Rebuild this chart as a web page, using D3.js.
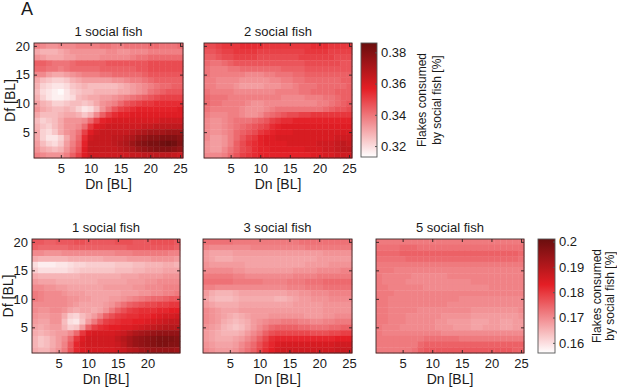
<!DOCTYPE html>
<html>
<head>
<meta charset="utf-8">
<script src="https://cdn.jsdelivr.net/npm/d3@7"></script>
<style>
body { margin: 0; background: #fff; }
text { font-family: "Liberation Sans", Arial, sans-serif; fill: #1a1a1a; }
</style>
</head>
<body>
<div id="vizContainer"></div>
<script>
let w = 617;
let h = 388;

let dn = [1, 2, 3, 4, 5, 6, 7, 8, 9, 10, 11, 12, 13, 14, 15, 16, 17, 18, 19, 20, 21, 22, 23, 24, 25];
let df = [20, 19, 18, 17, 16, 15, 14, 13, 12, 11, 10, 9, 8, 7, 6, 5, 4, 3, 2, 1];

let xTicks = [5, 10, 15, 20, 25];
let xTicksShort = [5, 10, 15, 20];
let yTicks = [5, 10, 15, 20];

let topRange = [0.313, 0.386];
let topBarTicks = [0.32, 0.34, 0.36, 0.38];
let topBarLabels = ["0.32", "0.34", "0.36", "0.38"];
let bottomRange = [0.156, 0.201];
let bottomBarTicks = [0.16, 0.17, 0.18, 0.19, 0.2];
let bottomBarLabels = ["0.16", "0.17", "0.18", "0.19", "0.2"];

let titles = ["1 social fish", "2 social fish", "1 social fish", "3 social fish", "5 social fish"];

// flakes consumed by social fish (x1000), rows Df 20 -> 1, columns Dn 1 -> 25
let oneFishTop = [
	[338,336,334,334,336,336,336,338,338,338,338,340,340,338,338,340,340,340,340,342,342,340,340,340,342],
	[330,328,328,328,330,332,334,334,334,334,334,334,336,336,334,334,336,336,336,338,338,338,338,338,338],
	[334,332,330,330,330,332,332,334,334,334,334,336,336,336,336,336,338,340,340,342,342,342,342,342,342],
	[344,344,342,340,340,340,342,344,344,344,344,344,346,346,346,346,346,346,346,348,348,348,348,348,348],
	[342,342,340,340,338,340,342,342,342,342,342,344,344,344,344,344,344,346,346,348,348,348,348,348,348],
	[336,336,332,330,330,332,334,336,338,338,338,340,340,342,342,342,342,342,344,346,346,346,346,346,346],
	[330,326,324,322,322,324,328,330,332,332,332,332,332,334,334,336,338,338,340,342,344,344,344,344,344],
	[328,322,320,318,318,320,324,326,328,326,326,326,326,326,328,330,332,334,336,338,340,342,342,344,344],
	[326,320,318,316,314,318,322,324,326,326,328,328,328,328,330,330,332,334,336,340,342,344,346,346,346],
	[328,322,318,316,316,318,320,326,328,330,330,332,332,334,336,338,340,342,344,346,348,350,350,350,350],
	[332,328,326,322,322,324,326,326,324,326,330,334,336,338,342,346,348,350,352,352,354,354,354,354,354],
	[334,330,328,326,326,328,326,322,318,320,326,334,340,346,350,352,354,356,356,356,356,356,356,356,358],
	[330,326,326,326,328,330,330,328,324,328,336,344,350,354,356,356,358,358,358,358,358,358,358,358,358],
	[326,322,324,326,330,334,334,334,336,342,350,356,358,360,360,360,360,360,360,360,360,362,362,362,362],
	[328,324,322,326,330,334,334,336,342,352,358,360,362,362,362,362,362,362,364,364,366,366,366,366,366],
	[330,322,320,324,330,334,336,340,350,358,362,364,364,364,364,364,366,368,370,372,372,372,374,374,374],
	[330,322,318,318,322,330,336,342,354,362,364,364,364,366,366,368,370,374,376,378,378,380,380,380,378],
	[332,326,322,320,324,332,338,344,356,364,364,364,364,366,368,370,374,378,380,382,382,384,386,384,380],
	[334,330,328,326,328,334,340,346,358,364,364,364,364,364,366,368,370,374,376,378,380,380,380,378,376],
	[338,336,334,334,334,338,344,350,358,362,362,362,362,362,362,362,364,364,366,366,366,366,366,364,362]
];

let twoFishTop = [
	[348,348,350,352,352,352,354,354,354,354,352,352,352,352,352,352,352,352,354,354,354,352,352,352,352],
	[346,346,348,350,350,352,352,352,352,350,350,350,350,350,350,350,350,352,352,352,352,350,350,350,350],
	[344,344,346,348,348,350,350,350,350,348,348,348,348,348,348,348,350,350,350,350,350,350,348,348,348],
	[342,340,340,342,344,346,346,346,346,346,346,346,346,346,346,346,346,348,348,348,348,348,348,346,346],
	[340,338,338,338,340,340,342,342,342,342,342,342,342,344,344,344,344,346,346,346,346,346,346,346,346],
	[340,338,338,338,338,338,338,336,336,336,338,338,340,340,340,342,342,344,344,344,344,344,344,344,344],
	[338,338,336,336,336,336,334,334,334,334,334,336,336,338,338,340,340,342,342,342,342,342,342,344,344],
	[338,338,336,336,336,334,332,332,332,332,334,334,334,336,336,338,340,340,340,342,342,342,342,342,344],
	[340,338,338,338,338,336,336,336,336,336,336,336,338,338,338,338,340,340,342,342,342,342,344,344,344],
	[342,340,340,340,338,338,338,338,338,338,338,338,338,336,336,336,336,338,338,338,340,340,342,344,344],
	[342,340,340,338,338,338,338,336,334,334,336,336,336,336,336,336,336,336,336,338,338,340,342,344,346],
	[340,338,338,338,338,338,336,334,334,334,336,338,340,340,340,340,340,340,340,340,342,344,346,346,348],
	[338,336,336,336,338,338,336,334,334,336,340,342,344,346,348,348,350,350,352,352,352,352,352,352,352],
	[336,334,334,336,338,340,340,340,342,344,346,350,352,354,354,356,356,356,356,356,356,356,356,356,356],
	[336,334,334,336,338,340,342,344,346,348,350,354,356,358,358,358,358,358,358,358,358,358,358,358,358],
	[336,334,334,336,338,342,344,346,348,352,354,356,358,358,358,360,360,360,360,360,360,360,360,360,360],
	[336,332,332,334,338,342,346,350,352,356,358,358,360,360,360,360,360,360,360,360,360,360,362,362,362],
	[334,332,332,334,338,344,348,352,354,356,358,358,358,358,360,360,360,360,360,362,362,362,364,366,364],
	[334,332,332,336,340,344,348,350,354,356,356,358,358,358,358,358,358,360,360,360,362,362,364,366,366],
	[336,336,336,338,342,346,350,352,354,356,356,356,356,356,356,356,356,356,358,358,360,360,362,362,362]
];

let oneFishBottom = [
	[176,176,175,175,176,176,176,177,177,176,176,176,176,176,177,177,177,176,176,176,177,177,177,177,176],
	[175,174,174,174,174,174,175,175,175,175,175,175,175,175,175,175,176,176,176,176,176,176,176,176,175],
	[170,170,169,169,169,170,170,170,170,170,170,170,170,170,171,171,171,172,172,172,172,172,172,171,171],
	[166,165,165,165,165,165,166,166,166,166,166,166,167,167,167,167,168,168,168,168,169,169,169,169,168],
	[160,158,158,158,159,159,160,161,161,162,162,162,162,162,163,163,163,164,164,165,165,165,166,166,165],
	[162,160,160,160,160,160,161,162,163,163,163,163,163,163,164,164,164,165,165,166,166,166,167,167,167],
	[166,165,165,165,165,165,165,165,166,166,166,166,166,166,166,167,167,167,168,168,168,168,169,169,169],
	[168,167,167,167,166,166,166,166,166,166,166,167,167,167,167,167,168,168,168,169,169,170,170,170,170],
	[170,170,169,169,168,168,167,167,167,167,167,167,168,168,168,168,168,169,169,170,170,170,171,171,171],
	[172,171,170,170,170,169,168,168,168,167,167,167,167,167,167,168,168,168,169,169,170,170,171,171,172],
	[172,171,170,170,170,170,169,169,168,168,167,167,167,168,168,169,170,171,172,173,174,174,175,176,176],
	[170,170,170,170,170,170,169,168,167,167,167,167,168,169,171,173,175,176,177,178,178,179,179,180,180],
	[170,169,169,170,170,169,167,166,167,167,166,167,169,172,175,177,179,180,181,181,181,182,182,183,183],
	[169,168,168,169,169,166,162,161,164,166,168,171,175,177,179,180,181,181,182,182,183,184,185,185,186],
	[168,167,167,169,169,164,160,159,163,168,172,176,179,180,181,182,182,183,183,184,185,186,187,188,188],
	[167,166,167,168,168,165,162,163,168,175,179,181,182,183,183,184,184,185,186,187,188,189,190,190,190],
	[166,165,166,167,168,168,170,174,180,184,185,185,185,185,186,187,189,191,192,193,194,195,195,195,195],
	[165,163,164,166,168,170,174,180,184,186,186,186,186,186,188,190,192,194,195,196,197,198,198,198,197],
	[165,163,164,166,168,171,176,182,185,186,186,186,186,186,187,189,192,194,195,196,197,198,198,197,197],
	[166,165,165,167,169,172,177,182,184,185,185,185,185,185,186,187,189,190,192,193,194,194,194,194,193]
];

let threeFishBottom = [
	[173,173,173,173,173,172,172,172,172,172,172,172,172,172,172,172,173,173,173,173,173,173,173,173,173],
	[171,170,170,170,170,170,170,170,171,171,171,171,171,171,171,171,171,172,172,172,172,172,172,172,172],
	[168,167,167,167,167,168,168,168,168,168,168,168,168,168,168,168,168,168,168,168,169,169,169,169,169],
	[168,167,166,166,166,167,167,167,167,167,167,167,167,167,167,167,167,167,167,168,168,168,168,168,168],
	[169,168,168,168,168,168,168,167,167,167,167,167,167,167,167,167,167,168,168,168,168,169,169,169,169],
	[170,170,170,170,170,169,169,168,168,168,168,168,168,168,168,169,169,169,169,170,170,170,170,171,171],
	[172,172,172,172,172,171,171,170,170,170,170,170,170,170,170,171,171,171,171,172,172,172,172,172,172],
	[173,173,173,173,173,172,172,172,172,172,171,171,171,171,172,172,172,173,173,173,174,174,174,174,174],
	[171,171,170,170,170,170,170,170,170,170,170,170,170,170,171,171,171,172,172,172,173,173,173,173,173],
	[168,166,165,165,165,166,167,167,167,167,167,167,167,167,168,168,169,169,170,170,170,171,171,171,171],
	[167,165,164,164,164,165,166,166,166,166,166,166,165,165,166,167,168,168,169,169,169,170,170,170,170],
	[168,167,166,166,166,166,167,167,167,167,167,167,167,167,167,168,168,168,168,168,169,169,169,169,169],
	[170,169,168,167,167,167,168,168,168,168,168,168,168,168,168,168,168,168,168,168,169,169,169,169,169],
	[170,169,168,167,166,165,166,167,168,168,168,169,169,169,169,169,169,168,168,168,169,169,170,170,170],
	[170,169,168,166,165,164,165,166,168,169,170,171,171,172,172,172,171,171,170,170,171,171,172,172,172],
	[169,168,167,165,164,163,164,166,168,170,172,174,175,175,175,175,174,174,173,173,173,174,174,175,175],
	[168,167,166,165,165,165,166,168,170,172,175,177,178,178,178,178,178,178,177,177,177,178,178,179,179],
	[168,167,166,166,166,167,168,170,172,175,178,181,182,182,182,182,182,182,182,182,182,182,183,183,183],
	[169,168,167,167,167,168,170,172,174,177,180,182,184,185,185,185,185,185,185,185,185,185,186,186,186],
	[170,169,168,168,168,169,171,173,175,178,181,183,185,186,186,186,186,186,186,186,186,186,187,187,187]
];

let fiveFishBottom = [
	[172,172,172,172,172,172,172,172,172,172,172,172,172,172,172,172,172,172,172,172,172,172,172,172,172],
	[173,173,173,173,174,174,174,173,173,173,173,173,173,173,173,173,173,173,173,173,173,173,173,173,173],
	[174,174,174,174,175,175,175,175,175,175,175,175,175,175,175,175,175,175,175,175,175,175,175,175,174],
	[173,173,173,173,173,174,174,174,174,174,174,174,174,174,174,174,174,174,174,174,174,174,174,174,173],
	[172,172,172,172,172,172,172,172,172,172,172,172,172,172,172,172,172,172,172,172,172,172,172,172,172],
	[172,172,172,171,171,171,171,171,171,171,171,171,171,171,171,171,171,171,171,171,171,171,171,171,171],
	[172,171,171,171,171,171,170,170,170,170,170,170,171,171,171,171,171,171,171,171,171,171,171,171,171],
	[172,171,171,171,171,170,170,170,170,170,170,170,170,170,170,170,171,171,171,171,171,171,171,171,171],
	[172,172,171,171,171,171,171,171,170,170,170,170,170,170,170,170,170,170,170,171,171,171,171,171,171],
	[172,172,172,171,171,171,171,171,171,171,171,171,171,171,171,171,171,171,171,171,171,171,171,171,171],
	[172,172,171,171,171,171,171,171,171,171,171,171,171,171,170,170,170,170,170,170,170,170,170,170,170],
	[172,172,171,171,171,171,171,171,171,171,171,171,170,170,170,170,170,170,170,170,170,170,170,170,170],
	[172,172,171,171,171,171,171,170,170,170,170,170,170,170,170,170,169,169,169,169,169,169,169,169,170],
	[172,172,171,171,171,170,170,170,170,170,170,169,169,169,169,169,168,168,168,168,168,168,168,168,169],
	[172,172,171,171,171,170,170,170,170,170,169,169,168,168,168,168,167,167,167,168,168,167,167,168,168],
	[172,171,171,171,170,170,170,170,170,170,169,169,169,168,168,168,167,167,168,168,168,167,167,168,168],
	[172,171,171,171,171,171,171,171,171,171,171,170,170,170,170,170,170,170,170,170,170,170,170,170,170],
	[172,172,172,172,172,172,172,172,173,173,173,173,173,173,172,172,172,172,172,172,172,172,172,172,172],
	[172,172,172,172,172,172,172,174,175,175,175,175,175,175,175,175,175,175,175,175,175,175,175,175,175],
	[172,172,172,172,172,172,173,175,176,176,176,176,176,176,176,176,176,176,176,176,176,176,176,175,175]
];

let viz = d3.select('#vizContainer').append('svg')
	.attr('width', w)
	.attr('height', h)
	.style('background-color', 'white')
	;

// white -> red -> dark red, like the matlab map
function makeColor(range){
	let lo = range[0], hi = range[1];
	return d3.scaleLinear()
		.domain([lo, lo + (hi - lo) * 0.6, hi])
		.range(["#ffffff", "#e41e25", "#6a0e0e"])
		.interpolate(d3.interpolateRgb)
		.clamp(true);
}
let topColor = makeColor(topRange);
let bottomColor = makeColor(bottomRange);

let panels = [
	{grid: oneFishTop, title: titles[0], x0: 34, x1: 183, y0: 43, y1: 158, xt: xTicks, yLab: true, color: topColor},
	{grid: twoFishTop, title: titles[1], x0: 204, x1: 352, y0: 43, y1: 158, xt: xTicks, yLab: false, color: topColor},
	{grid: oneFishBottom, title: titles[2], x0: 32, x1: 180, y0: 239, y1: 353, xt: xTicksShort, yLab: true, color: bottomColor},
	{grid: threeFishBottom, title: titles[3], x0: 203, x1: 352, y0: 239, y1: 353, xt: xTicks, yLab: false, color: bottomColor},
	{grid: fiveFishBottom, title: titles[4], x0: 376, x1: 524, y0: 239, y1: 353, xt: xTicks, yLab: false, color: bottomColor}
];

function drawPanel(p){
	let g = viz.append('g').attr('class', 'panel');
	let xScale = d3.scaleLinear().domain([0.5, 25.5]).range([p.x0, p.x1]);
	let yScale = d3.scaleLinear().domain([0.5, 20.5]).range([p.y1, p.y0]);

	let cells = [];
	p.grid.forEach(function(row, i){
		row.forEach(function(v, j){
			cells.push({dn: dn[j], df: df[i], value: v / 1000});
		});
	});

	g.selectAll('.cell').data(cells).enter().append('rect')
		.attr('class', 'cell')
		.attr('x', function(d){ return xScale(d.dn - 0.5); })
		.attr('y', function(d){ return yScale(d.df + 0.5); })
		.attr('width', function(d){ return xScale(d.dn + 0.5) - xScale(d.dn - 0.5) + 0.4; })
		.attr('height', function(d){ return yScale(d.df - 0.5) - yScale(d.df + 0.5) + 0.4; })
		.attr('fill', function(d){ return p.color(d.value); })
	;

	let bottom = d3.axisBottom(xScale).tickValues(p.xt).tickSizeInner(-3).tickSizeOuter(0).tickPadding(6);
	let top = d3.axisTop(xScale).tickValues(xTicks).tickSizeInner(-3).tickSizeOuter(0).tickFormat('');
	let left = d3.axisLeft(yScale).tickValues(yTicks).tickSizeInner(-3).tickSizeOuter(0).tickPadding(4);
	let right = d3.axisRight(yScale).tickValues(yTicks).tickSizeInner(-3).tickSizeOuter(0).tickFormat('');
	if(!p.yLab){ left.tickFormat(''); }

	let axes = [
		g.append('g').attr('transform', 'translate(0,' + p.y1 + ')').call(bottom),
		g.append('g').attr('transform', 'translate(0,' + p.y0 + ')').call(top),
		g.append('g').attr('transform', 'translate(' + p.x0 + ',0)').call(left),
		g.append('g').attr('transform', 'translate(' + p.x1 + ',0)').call(right)
	];
	axes.forEach(function(a){
		a.select('.domain').remove();
		a.selectAll('line').attr('stroke', '#3a2626');
		a.selectAll('text').style('font-family', '"Liberation Sans", Arial, sans-serif').style('font-size', '13px').attr('fill', '#1a1a1a');
	});

	g.append('rect')
		.attr('x', p.x0).attr('y', p.y0)
		.attr('width', p.x1 - p.x0).attr('height', p.y1 - p.y0)
		.attr('fill', 'none').attr('stroke', '#3a2626').attr('stroke-width', 0.9);

	g.append('text')
		.attr('x', (p.x0 + p.x1) / 2).attr('y', p.y0 - 7)
		.attr('text-anchor', 'middle').style('font-size', '13px')
		.text(p.title);

	g.append('text')
		.attr('x', (p.x0 + p.x1) / 2).attr('y', p.y1 + 31)
		.attr('text-anchor', 'middle').style('font-size', '14px')
		.text('Dn [BL]');

	if(p.yLab){
		g.append('text')
			.attr('transform', 'translate(' + (p.x0 - 19) + ',' + ((p.y0 + p.y1) / 2) + ') rotate(-90)')
			.attr('text-anchor', 'middle').style('font-size', '14px')
			.text('Df [BL]');
	}
}

panels.forEach(drawPanel);

// colorbars
function drawBar(id, color, range, ticks, labels, x0, x1, y0, y1, lab1, lab2){
	let bScale = d3.scaleLinear().domain(range).range([y1, y0]);
	let grad = viz.append('defs').append('linearGradient')
		.attr('id', id).attr('x1', 0).attr('x2', 0).attr('y1', 1).attr('y2', 0);
	d3.range(0, 1.0001, 0.05).forEach(function(t){
		grad.append('stop')
			.attr('offset', t)
			.attr('stop-color', color(range[0] + t * (range[1] - range[0])));
	});
	viz.append('rect')
		.attr('x', x0).attr('y', y0).attr('width', x1 - x0).attr('height', y1 - y0)
		.attr('fill', 'url(#' + id + ')')
		.attr('stroke', '#555').attr('stroke-width', 0.9);

	let ax = viz.append('g').attr('transform', 'translate(' + x1 + ',0)')
		.call(d3.axisRight(bScale).tickValues(ticks).tickSizeInner(-2).tickSizeOuter(0).tickPadding(4)
			.tickFormat(function(d, i){ return labels[i]; }));
	ax.select('.domain').remove();
	ax.selectAll('line').attr('stroke', '#555');
	ax.selectAll('text').style('font-family', '"Liberation Sans", Arial, sans-serif').style('font-size', '13px').attr('fill', '#1a1a1a');

	let cy = (y0 + y1) / 2;
	viz.append('text')
		.attr('transform', 'translate(' + lab1 + ',' + cy + ') rotate(-90)')
		.attr('text-anchor', 'middle').style('font-size', '12px')
		.text('Flakes consumed');
	viz.append('text')
		.attr('transform', 'translate(' + lab2 + ',' + cy + ') rotate(-90)')
		.attr('text-anchor', 'middle').style('font-size', '12px')
		.text('by social fish [%]');
}

drawBar('barTop', topColor, topRange, topBarTicks, topBarLabels, 361, 377, 43, 157, 426, 441);
drawBar('barBottom', bottomColor, bottomRange, bottomBarTicks, bottomBarLabels, 538, 555, 239, 353, 601, 614);

viz.append('text')
	.attr('x', 21).attr('y', 15)
	.style('font-size', '18px')
	.text('A');
</script>
</body>
</html>
